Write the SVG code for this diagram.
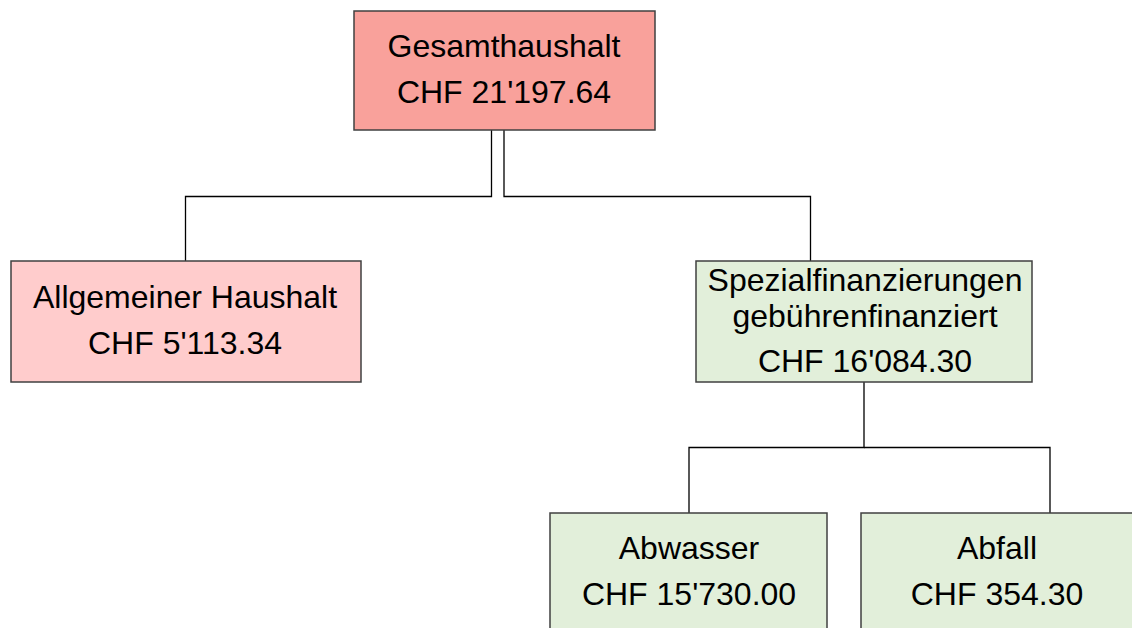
<svg xmlns="http://www.w3.org/2000/svg" width="1132" height="628" viewBox="0 0 1132 628">
<style>
.box{stroke:#404040;stroke-width:1.5}
.red{fill:#F9A19B}
.pink{fill:#FFCCCC}
.green{fill:#E2EFDA}
.t{font-family:"Liberation Sans",Arial,sans-serif;font-size:32px;fill:#000;text-anchor:middle}
.c{fill:none;stroke:#000;stroke-width:1.3}
</style>
<rect width="1132" height="628" fill="#fff"/>
<g id="connectors">
<path class="c" d="M491.5 130 V196.5 H185.5 V261"/>
<path class="c" d="M504 130 V196.5 H810.5 V261"/>
<path class="c" d="M864 382 V447.5 H689 V513"/>
<path class="c" d="M864 447.5 H1050 V513"/>
</g>
<g id="gesamthaushalt">
<rect class="box red" x="354" y="11" width="301" height="119"/>
<text class="t" x="504" y="57">Gesamthaushalt</text>
<text class="t" x="504" y="103">CHF 21'197.64</text>
</g>
<g id="allgemeiner-haushalt">
<rect class="box pink" x="11" y="261" width="350" height="121"/>
<text class="t" x="185" y="308">Allgemeiner Haushalt</text>
<text class="t" x="185" y="354">CHF 5'113.34</text>
</g>
<g id="spezialfinanzierungen">
<rect class="box green" x="696" y="261" width="336" height="121"/>
<text class="t" x="865" y="291">Spezialfinanzierungen</text>
<text class="t" x="865" y="327">gebührenfinanziert</text>
<text class="t" x="865" y="372">CHF 16'084.30</text>
</g>
<g id="abwasser">
<rect class="box green" x="550" y="513" width="277" height="130"/>
<text class="t" x="689" y="559">Abwasser</text>
<text class="t" x="689" y="605">CHF 15'730.00</text>
</g>
<g id="abfall">
<rect class="box green" x="861" y="513" width="300" height="130"/>
<text class="t" x="997" y="559">Abfall</text>
<text class="t" x="997" y="605">CHF 354.30</text>
</g>
</svg>
